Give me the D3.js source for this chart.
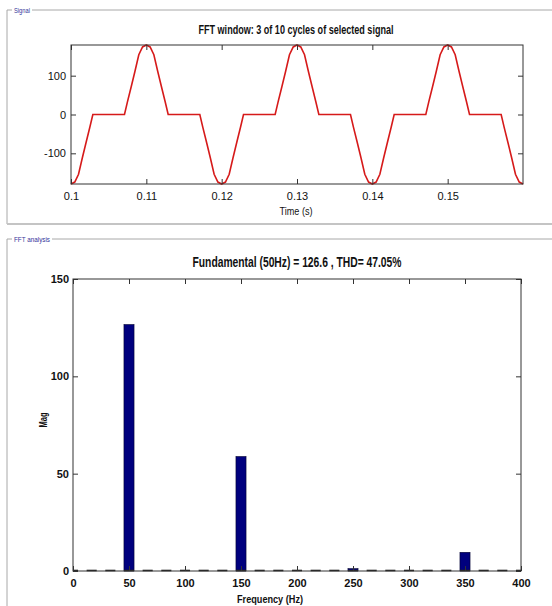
<!DOCTYPE html>
<html>
<head>
<meta charset="utf-8">
<script src="https://cdn.jsdelivr.net/npm/d3@7"></script>
<style>
  body { margin: 0; background: #fff; }
  svg text { font-family: "Liberation Sans", Arial, sans-serif; fill: #111; }
</style>
</head>
<body>
<div id="chart"></div>
<script>
// signal (s, V)
const signalTime = [
    0.1000, 0.1005, 0.1010, 0.1015, 0.1020, 0.1025, 0.1029,
    0.1071, 0.1075, 0.1080, 0.1085, 0.1090, 0.1095, 0.1100, 0.1105, 0.1110, 0.1115, 0.1120, 0.1125, 0.1129,
    0.1171, 0.1175, 0.1180, 0.1185, 0.1190, 0.1195, 0.1200, 0.1205, 0.1210, 0.1215, 0.1220, 0.1225, 0.1229,
    0.1271, 0.1275, 0.1280, 0.1285, 0.1290, 0.1295, 0.1300, 0.1305, 0.1310, 0.1315, 0.1320, 0.1325, 0.1329,
    0.1371, 0.1375, 0.1380, 0.1385, 0.1390, 0.1395, 0.1400, 0.1405, 0.1410, 0.1415, 0.1420, 0.1425, 0.1429,
    0.1471, 0.1475, 0.1480, 0.1485, 0.1490, 0.1495, 0.1500, 0.1505, 0.1510, 0.1515, 0.1520, 0.1525, 0.1529,
    0.1571, 0.1575, 0.1580, 0.1585, 0.1590, 0.1595, 0.1600
]
const signalValue = [
    -179, -174, -154, -112, -72, -33, 0,
    0, 33, 72, 112, 154, 174, 179, 174, 154, 112, 72, 33, 0,
    0, -33, -72, -112, -154, -174, -179, -174, -154, -112, -72, -33, 0,
    0, 33, 72, 112, 154, 174, 179, 174, 154, 112, 72, 33, 0,
    0, -33, -72, -112, -154, -174, -179, -174, -154, -112, -72, -33, 0,
    0, 33, 72, 112, 154, 174, 179, 174, 154, 112, 72, 33, 0,
    0, -33, -72, -112, -154, -174, -179
]
const timeTicks = [0.1, 0.11, 0.12, 0.13, 0.14, 0.15]
const signalTicks = [-100, 0, 100]

// FFT bins (Hz) and magnitudes
const fftFreq = [0, 16.67, 33.33, 50, 66.67, 83.33, 100, 116.67, 133.33, 150, 166.67, 183.33,
    200, 216.67, 233.33, 250, 266.67, 283.33, 300, 316.67, 333.33, 350, 366.67, 383.33, 400]
const fftMag = [0, 0, 0, 126.6, 0, 0, 0, 0, 0, 58.8, 0, 0,
    0, 0, 0, 1.2, 0, 0, 0, 0, 0, 9.6, 0, 0, 0]
const freqTicks = [0, 50, 100, 150, 200, 250, 300, 350, 400]
const magTicks = [0, 50, 100, 150]

const width = 552
const height = 606
const panelColor = "#a8a8a8"
const labelColor = "#35359a"

const svg = d3.select("#chart").append("svg")
    .attr("width", width)
    .attr("height", height)

// ---- panel frames
const panel = (y0, y1, label, labelLen) => {
    const g = svg.append("g").attr("class", "panel")
    g.append("line").attr("x1", 7).attr("x2", 12).attr("y1", y0).attr("y2", y0)
        .attr("stroke", panelColor)
    g.append("line").attr("x1", 14 + labelLen + 2).attr("x2", width).attr("y1", y0).attr("y2", y0)
        .attr("stroke", panelColor)
    g.append("line").attr("x1", 7).attr("x2", 7).attr("y1", y0).attr("y2", y1)
        .attr("stroke", panelColor)
    if (y1 < height) {
        g.append("line").attr("x1", 7).attr("x2", width).attr("y1", y1).attr("y2", y1)
            .attr("stroke", "#c4c4c4").style("stroke-width", "2px")
    }
    g.append("text")
        .attr("x", 14).attr("y", y0 + 3)
        .attr("textLength", labelLen).attr("lengthAdjust", "spacingAndGlyphs")
        .style("font-size", "8px")
        .style("fill", labelColor)
        .text(label)
}
panel(10, 224, "Signal", 16)
panel(239, height + 5, "FFT analysis", 36)

// inward ticks on all four sides, box around
const frame = (g, x, y, xt, yt, pad) => {
    const [x0, x1] = x.range()
    const [y0, y1] = y.range()
    const plain = d => String(d)
    g.append("g").attr("class", "axis x")
        .attr("transform", "translate(0," + y0 + ")")
        .call(d3.axisBottom(x).tickValues(xt).tickSize(-5).tickPadding(pad.x).tickFormat(plain))
    g.append("g")
        .attr("transform", "translate(0," + y1 + ")")
        .call(d3.axisTop(x).tickValues(xt).tickSize(-5).tickFormat(""))
    g.append("g").attr("class", "axis y")
        .attr("transform", "translate(" + x0 + ",0)")
        .call(d3.axisLeft(y).tickValues(yt).tickSize(-5).tickPadding(pad.y).tickFormat(plain))
    g.append("g")
        .attr("transform", "translate(" + x1 + ",0)")
        .call(d3.axisRight(y).tickValues(yt).tickSize(-5).tickFormat(""))
    g.selectAll(".domain").remove()
    g.selectAll(".tick line").attr("stroke", "#333")
    g.selectAll(".tick text")
        .style("font-size", "11px")
        .style("font-family", "Liberation Sans, Arial, sans-serif")
        .attr("fill", "#111")
    g.append("rect")
        .attr("x", x0).attr("y", y1)
        .attr("width", x1 - x0).attr("height", y0 - y1)
        .attr("fill", "none")
        .attr("stroke", "#333")
}

// ---- signal plot
const xs = d3.scaleLinear().domain([0.1, 0.16]).range([71, 523])
const ys = d3.scaleLinear().domain([-179, 179]).range([184, 45])

const sig = svg.append("g").attr("class", "signal")

sig.append("text")
    .attr("x", 296).attr("y", 34)
    .attr("textLength", 195).attr("lengthAdjust", "spacingAndGlyphs")
    .style("font-size", "12px").style("font-weight", "bold")
    .style("text-anchor", "middle")
    .text("FFT window: 3 of 10 cycles of selected signal")

const line = d3.line()
    .x(i => xs(signalTime[i]))
    .y(i => ys(signalValue[i]))

sig.append("path")
    .datum(d3.range(signalTime.length))
    .attr("d", line)
    .attr("fill", "none")
    .attr("stroke", "#d61a1a")
    .style("stroke-width", "1.6px")

frame(sig, xs, ys, timeTicks, signalTicks, {x: 8, y: 5})

sig.append("text")
    .attr("x", 296).attr("y", 215)
    .attr("textLength", 33).attr("lengthAdjust", "spacingAndGlyphs")
    .style("font-size", "11px")
    .style("text-anchor", "middle")
    .text("Time (s)")

// ---- FFT plot
const xf = d3.scaleLinear().domain([0, 400]).range([73, 521])
const yf = d3.scaleLinear().domain([0, 150]).range([571, 279])
const barHz = 9

const fft = svg.append("g").attr("class", "fft")

fft.append("text")
    .attr("x", 297).attr("y", 267)
    .attr("textLength", 209).attr("lengthAdjust", "spacingAndGlyphs")
    .style("font-size", "14px").style("font-weight", "bold")
    .style("text-anchor", "middle")
    .text("Fundamental (50Hz) = 126.6 , THD= 47.05%")

svg.append("clipPath").attr("id", "fftclip")
    .append("rect")
    .attr("x", 73).attr("y", 279).attr("width", 448).attr("height", 293)

const bars = fft.append("g").attr("clip-path", "url(#fftclip)")

bars.selectAll("rect")
    .data(fftMag.map((m, i) => ({f: fftFreq[i], m})).filter(d => d.m > 0))
    .enter()
    .append("rect")
    .attr("x", d => xf(d.f - barHz / 2))
    .attr("y", d => yf(d.m))
    .attr("width", xf(barHz) - xf(0))
    .attr("height", d => yf(0) - yf(d.m))
    .attr("fill", "#00007e")
    .attr("stroke", "#000030")
    .style("stroke-width", "0.6px")

// bottom edges of every bar make the dashed baseline
bars.selectAll("line")
    .data(fftFreq)
    .enter()
    .append("line")
    .attr("x1", d => xf(d - barHz / 2))
    .attr("x2", d => xf(d + barHz / 2))
    .attr("y1", yf(0) - 0.5)
    .attr("y2", yf(0) - 0.5)
    .attr("stroke", "#222")
    .style("stroke-width", "1.6px")

frame(fft, xf, yf, freqTicks, magTicks, {x: 8, y: 4})
fft.selectAll(".tick text").style("font-weight", "bold")

fft.append("text")
    .attr("x", 270).attr("y", 603)
    .attr("textLength", 66).attr("lengthAdjust", "spacingAndGlyphs")
    .style("font-size", "11px").style("font-weight", "bold")
    .style("text-anchor", "middle")
    .text("Frequency (Hz)")

fft.append("text")
    .attr("transform", "translate(47,420) rotate(-90)")
    .attr("textLength", 15).attr("lengthAdjust", "spacingAndGlyphs")
    .style("font-size", "10px").style("font-weight", "bold")
    .style("text-anchor", "middle")
    .text("Mag")
</script>
</body>
</html>
